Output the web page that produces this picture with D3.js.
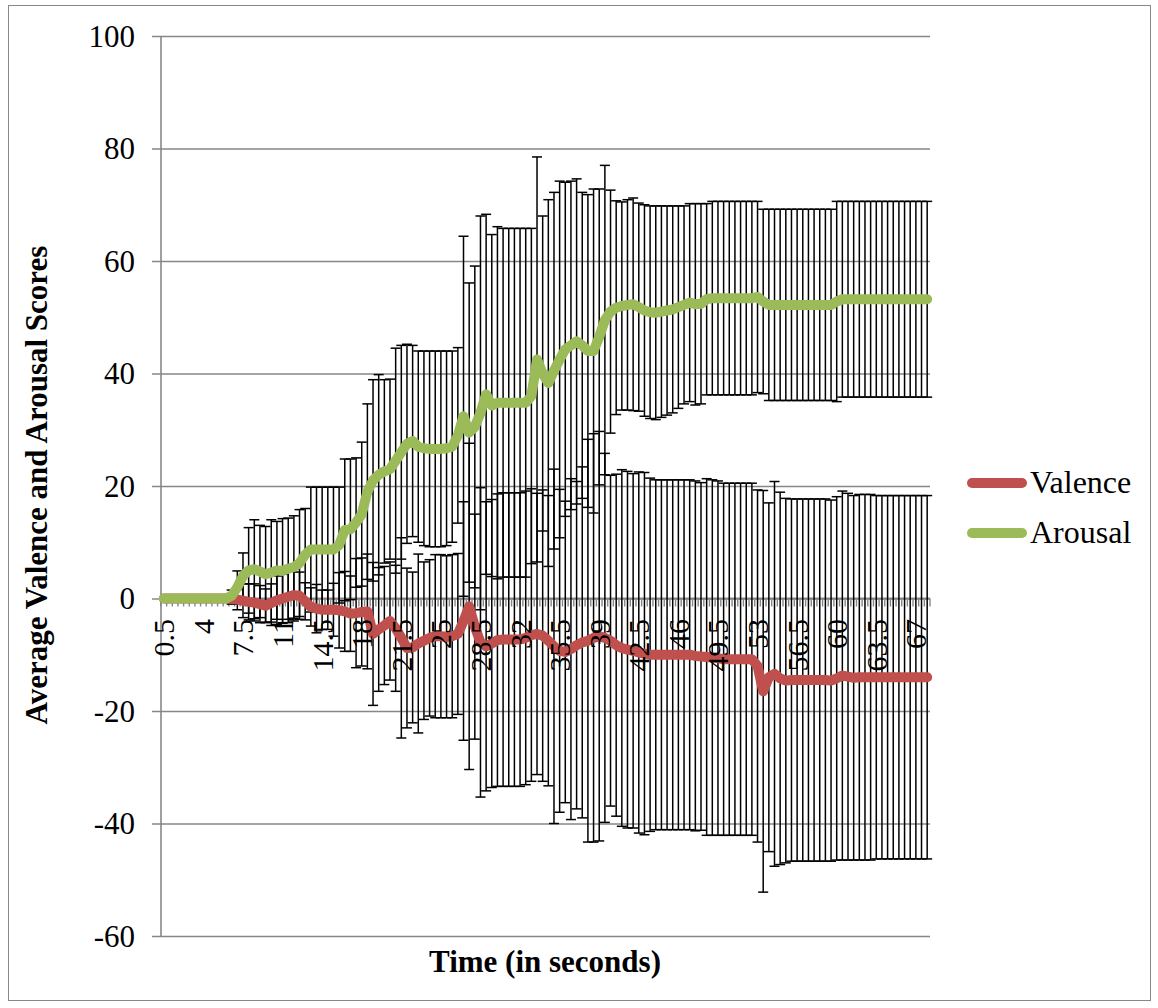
<!DOCTYPE html>
<html>
<head>
<meta charset="utf-8">
<script src="https://cdn.jsdelivr.net/npm/d3@7"></script>
<style>
  html, body { margin: 0; padding: 0; background: #fff; }
  svg { display: block; }
  text { font-family: "Liberation Serif", "Times New Roman", serif; fill: #000; }
</style>
</head>
<body>
<svg id="chart" width="1158" height="1008"></svg>
<script>
// ---------- data ----------
const categories = [
  0.5,1,1.5,2,2.5,3,3.5,4,4.5,5,5.5,6,6.5,7,7.5,8,8.5,9,9.5,10,
  10.5,11,11.5,12,12.5,13,13.5,14,14.5,15,15.5,16,16.5,17,17.5,18,18.5,19,19.5,20,
  20.5,21,21.5,22,22.5,23,23.5,24,24.5,25,25.5,26,26.5,27,27.5,28,28.5,29,29.5,30,
  30.5,31,31.5,32,32.5,33,33.5,34,34.5,35,35.5,36,36.5,37,37.5,38,38.5,39,39.5,40,
  40.5,41,41.5,42,42.5,43,43.5,44,44.5,45,45.5,46,46.5,47,47.5,48,48.5,49,49.5,50,
  50.5,51,51.5,52,52.5,53,53.5,54,54.5,55,55.5,56,56.5,57,57.5,58,58.5,59,59.5,60,
  60.5,61,61.5,62,62.5,63,63.5,64,64.5,65,65.5,66,66.5,67,67.5,68
];

const xTickLabels = [0.5,4,7.5,11,14.5,18,21.5,25,28.5,32,35.5,39,42.5,46,49.5,53,56.5,60,63.5,67];
const yTickValues = [-60,-40,-20,0,20,40,60,80,100];

const seriesNames = ["Valence","Arousal"];
const seriesColors = ["#C0504D","#9BBB59"];

const valence = [
  0,0,0,0,0,0,0,0,0,0,
  0,0,-0.1,-0.2,-0.4,-0.6,-0.7,-1.0,-1.3,-0.8,
  -0.3,0,0.3,0.6,0.5,-0.5,-1.5,-1.8,-2,-2,
  -2,-2.1,-2.3,-2.7,-2.6,-2.4,-2.3,-6.3,-5.5,-4.8,
  -4.0,-5.3,-7,-8.8,-8.7,-8,-7.5,-7.0,-6.7,-6.7,
  -6.8,-6.7,-6.3,-4,-1.4,-5,-7.8,-8.5,-8,-7.4,
  -7.3,-7.3,-7.3,-7.3,-7.0,-6.5,-6.3,-6.6,-7.5,-8.5,
  -9.3,-9.5,-9,-8.3,-7.8,-7.5,-7.0,-6.7,-7.0,-7.5,
  -8.3,-8.8,-9.1,-9.3,-9.6,-9.8,-10,-10,-10,-10,
  -10,-10,-10,-10,-10.2,-10.3,-10.4,-10.5,-10.6,-10.8,
  -10.8,-10.8,-10.8,-10.8,-10.8,-12,-16.5,-14.0,-13.4,-14.2,
  -14.6,-14.5,-14.5,-14.5,-14.5,-14.5,-14.5,-14.5,-14.6,-14.2,
  -13.7,-13.9,-14.1,-14,-14,-14,-14,-14,-14,-14,
  -14,-14,-14,-14,-14,-14
];

const valenceSD = [
  0,0,0,0,0,0,0,0,0,0,
  0,0,0.9,1.8,3,3.2,3.3,3.3,3,3.4,
  4.3,4.3,4.6,4.6,4.2,3.3,3.4,4.3,3.5,3.5,
  4.7,6.7,7.1,6.7,9.7,9.6,10.2,12.7,11,10.5,
  10.5,11.2,17.8,14.2,13.4,15.9,14,13.9,14.5,14.5,
  14.4,14.5,14.3,21.2,29,20,27.5,25.7,25.6,26,
  26.1,26.1,26.1,26.1,26.1,26,25,25.9,25.8,31.5,
  28.7,26.8,30.3,29.1,31.2,35.8,36.3,36.4,32.8,29.4,
  30.4,31.7,31.7,31.5,32.1,32.2,31.4,31.1,31.1,31.1,
  31.1,31.1,31.1,31.1,31.1,30.9,31.7,31.6,31.5,31.3,
  31.3,31.3,31.3,31.3,31.3,31.3,35.7,31,34.2,33.1,
  32.4,32.2,32.2,32.2,32.2,32.2,32.2,32.2,32.1,32.3,
  32.8,32.6,32.4,32.5,32.5,32.5,32.3,32.3,32.3,32.3,
  32.3,32.3,32.3,32.3,32.3,32.3
];

const arousal = [
  0,0,0,0,0,0,0,0,0,0,
  0,0,0.5,2,4,5,5.2,4.8,4.3,4.6,
  5.0,4.9,5.3,5.6,6.3,7.8,8.7,8.7,8.7,8.7,
  8.7,9.5,12.2,12.3,13.5,15,19,21,22,22.6,
  23,24.5,26,27.5,28,27,26.7,26.6,26.6,26.6,
  26.7,27,29,32.4,29.5,30.5,33,36.3,34.3,34.8,
  34.8,34.8,34.8,34.8,34.8,36,42.5,40,38.3,40.5,
  42.5,44.3,45,45.7,45,44,44,46.5,49.5,51,
  51.7,52,52.2,52.3,51.8,51.2,50.9,50.8,51,51.2,
  51.4,51.8,52.2,52.6,52.3,52.4,53.2,53.4,53.4,53.4,
  53.4,53.4,53.4,53.4,53.4,53.6,52.8,52.2,52.2,52.2,
  52.2,52.2,52.2,52.2,52.2,52.2,52.2,52.2,52.2,52.8,
  53.2,53.2,53.2,53.2,53.2,53.2,53.2,53.2,53.2,53.2,
  53.2,53.2,53.2,53.2,53.2,53.2
];

const arousalSD = [
  0,0,0,0,0,0,0,0,0,0,
  0,0,1,2.9,4.1,7.6,8.8,8.2,8.5,9.4,
  8.7,9.3,9,9.1,9.5,8.2,11.1,11.1,11.1,11.1,
  11.1,10.3,12.6,12.5,11.5,12.8,15.6,17.9,17.8,16.3,
  16,20,19,17.7,17,17,17.3,17.4,17.4,17.4,
  17.3,17,15.6,32,26.6,28.6,35,32,30.4,31.3,
  31,31,31,31,31,29.8,36,28,32.6,31.7,
  31.7,29.7,29.2,28.9,27.2,27.8,28.8,26.3,27.5,21.6,
  19,18.5,18.7,18.9,18.5,18.8,18.9,19,18.8,18.6,
  18.4,18,17.6,17.6,17.9,17.8,17,17.2,17.2,17.2,
  17.2,17.2,17.2,17.2,17.2,17,16.4,17,17,17,
  17,17,17,17,17,17,17,17,17,17.8,
  17.4,17.4,17.4,17.4,17.4,17.4,17.4,17.4,17.4,17.4,
  17.4,17.4,17.4,17.4,17.4,17.4
];

// ---------- drawing ----------
const svg = d3.select("#chart");
const W = 1158, H = 1008;
const plot = { left: 161, right: 930, top: 36, bottom: 936 };
const gridColor = "#878787";

svg.append("rect").attr("x", 0).attr("y", 0).attr("width", W).attr("height", H).attr("fill", "#fff");
svg.append("rect").attr("x", 8.5).attr("y", 5.5).attr("width", 1142).attr("height", 995)
  .attr("fill", "none").attr("stroke", "#888").attr("stroke-width", 1);

const x = d3.scaleBand().domain(categories).range([plot.left, plot.right]).paddingInner(0).paddingOuter(0);
const y = d3.scaleLinear().domain([-60, 100]).range([plot.bottom, plot.top]);
const cx = c => x(c) + x.bandwidth() / 2;

// horizontal gridlines + y ticks (via d3 axis)
const yAxis = d3.axisLeft(y).tickValues(yTickValues).tickSize(-(plot.right - plot.left + 9)).tickPadding(0).tickFormat("");
const gy = svg.append("g").attr("transform", `translate(${plot.right},0)`).call(yAxis);
gy.select(".domain").remove();
gy.selectAll(".tick line").attr("stroke", gridColor).attr("stroke-width", 1.6)
  .attr("x1", 0).attr("x2", -(plot.right - plot.left + 9));

// y axis line
svg.append("line").attr("x1", plot.left).attr("x2", plot.left).attr("y1", plot.top).attr("y2", plot.bottom)
  .attr("stroke", gridColor).attr("stroke-width", 1.6);

// y tick labels
svg.append("g").selectAll("text").data(yTickValues).join("text")
  .attr("x", 135).attr("y", d => y(d)).attr("dy", "0.35em")
  .attr("text-anchor", "end").attr("font-size", 31).text(d => d);

// x axis line at 0 with category tick marks
const y0 = y(0);
svg.append("line").attr("x1", plot.left).attr("x2", plot.right).attr("y1", y0).attr("y2", y0)
  .attr("stroke", gridColor).attr("stroke-width", 1.8);
const boundaries = categories.map(c => x(c)).concat([plot.right]);
svg.append("g").selectAll("line").data(boundaries).join("line")
  .attr("x1", d => d).attr("x2", d => d).attr("y1", y0).attr("y2", y0 + 8)
  .attr("stroke", gridColor).attr("stroke-width", 1.4);

// error bars (both series)
const capHalf = 5;
const seriesData = [
  { name: seriesNames[0], color: seriesColors[0], vals: valence, sd: valenceSD },
  { name: seriesNames[1], color: seriesColors[1], vals: arousal, sd: arousalSD }
];
const ebG = svg.append("g").attr("stroke", "#000").attr("stroke-width", 1.5).attr("fill", "none");
seriesData.forEach(s => {
  const rows = categories.map((c, i) => ({ c, m: s.vals[i], e: s.sd[i] })).filter(r => r.e > 0);
  const g = ebG.append("g");
  g.selectAll("line.v").data(rows).join("line").attr("class", "v")
    .attr("x1", r => cx(r.c)).attr("x2", r => cx(r.c))
    .attr("y1", r => y(r.m + r.e)).attr("y2", r => y(r.m - r.e));
  g.selectAll("line.t").data(rows).join("line").attr("class", "t")
    .attr("x1", r => cx(r.c) - capHalf).attr("x2", r => cx(r.c) + capHalf)
    .attr("y1", r => y(r.m + r.e)).attr("y2", r => y(r.m + r.e));
  g.selectAll("line.b").data(rows).join("line").attr("class", "b")
    .attr("x1", r => cx(r.c) - capHalf).attr("x2", r => cx(r.c) + capHalf)
    .attr("y1", r => y(r.m - r.e)).attr("y2", r => y(r.m - r.e));
});

// series lines
const line = d3.line().x(d => cx(d.c)).y(d => y(d.v));
seriesData.forEach(s => {
  svg.append("path")
    .datum(categories.map((c, i) => ({ c, v: s.vals[i] })))
    .attr("d", line).attr("fill", "none").attr("stroke", s.color)
    .attr("stroke-width", 10).attr("stroke-linecap", "round").attr("stroke-linejoin", "round");
});

// x tick labels (rotated, drawn on top like the reference)
svg.append("g").selectAll("text").data(xTickLabels).join("text")
  .attr("transform", d => `translate(${cx(d)},619) rotate(-90)`)
  .attr("dy", "0.35em").attr("text-anchor", "end").attr("font-size", 30)
  .text(d => d);

// legend
const legend = svg.append("g");
seriesData.forEach((s, i) => {
  const ly = 483 + i * 50;
  legend.append("line").attr("x1", 972).attr("x2", 1022).attr("y1", ly).attr("y2", ly)
    .attr("stroke", s.color).attr("stroke-width", 10).attr("stroke-linecap", "round");
  legend.append("text").attr("x", 1030).attr("y", ly + 10).attr("font-size", 32).text(s.name);
});

// axis titles
svg.append("text").attr("x", 545).attr("y", 972).attr("text-anchor", "middle")
  .attr("font-size", 31).attr("font-weight", "bold").text("Time (in seconds)");
svg.append("text").attr("transform", "translate(47,485) rotate(-90)").attr("text-anchor", "middle")
  .attr("font-size", 31).attr("font-weight", "bold").text("Average Valence and Arousal Scores");
</script>
</body>
</html>
